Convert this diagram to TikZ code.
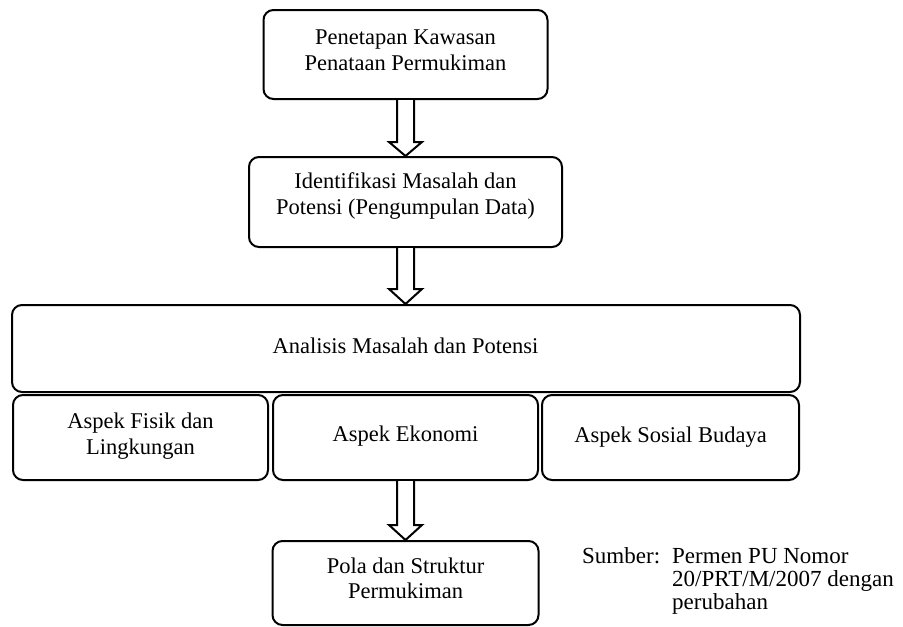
\documentclass[tikz,border=0pt]{standalone}
\usepackage{fontspec}
\setmainfont{Liberation Serif}
\usetikzlibrary{calc}
\begin{document}
\begin{tikzpicture}[x=1pt,y=-1pt,
  box/.style={draw, line width=2pt, rounded corners=10pt, inner sep=0pt, minimum width=#1},
  txt/.style={align=center, font=\fontsize{22.5}{25.5}\selectfont, inner sep=0pt},
  src/.style={anchor=base west, font=\fontsize{23}{23}\selectfont, inner sep=0pt},
  blockarrow/.style={draw, line width=2pt, fill=white, line join=miter}]
\useasboundingbox (0,0) rectangle (903,627);
% boxes
\node[box=284pt, minimum height=89pt] (b1) at (405.5,54.5) {};
\node[box=313pt, minimum height=90pt] (b2) at (405.5,202) {};
\node[box=788pt, minimum height=87pt] (b3) at (406,348.5) {};
\node[box=255pt, minimum height=85pt] (a1) at (140.5,437.5) {};
\node[box=265pt, minimum height=85pt] (a2) at (405.5,437.5) {};
\node[box=257pt, minimum height=85pt] (a3) at (670.5,437.5) {};
\node[box=266pt, minimum height=84pt] (b4) at (405.5,583) {};
% texts
\node[txt] (t1) at (405.5,50) {Penetapan Kawasan\\Penataan Permukiman};
\node[txt] (t2) at (405.5,196) {Identifikasi Masalah dan\\Potensi (Pengumpulan Data)};
\node[txt, anchor=base] (t3) at (405.5,353) {Analisis Masalah dan Potensi};
\node[txt] (ta1) at (140.5,436) {Aspek Fisik dan\\Lingkungan};
\node[txt, anchor=base] (ta2) at (405.5,441) {Aspek Ekonomi};
\node[txt, anchor=base] (ta3) at (670.5,442) {Aspek Sosial Budaya};
\node[txt] (t4) at (405.5,578.5) {Pola dan Struktur\\Permukiman};
% source
\node[src] (s0) at (582,563) {Sumber:};
\node[src] (s1) at (672,563) {Permen PU Nomor};
\node[src] (s2) at (672,586) {20/PRT/M/2007 dengan};
\node[src] (s3) at (672,609) {perubahan};
% block arrows
\draw[blockarrow] ($(b1.south)+(-8.5,0)$) -- ($(b2.north)+(-8.5,-14)$) -- ($(b2.north)+(-16.5,-14)$) -- (b2.north) -- ($(b2.north)+(16.5,-14)$) -- ($(b2.north)+(8.5,-14)$) -- ($(b1.south)+(8.5,0)$);
\draw[blockarrow] ($(b2.south)+(-8.5,0)$) -- ($(b2.south|-b3.north)+(-8.5,-15)$) -- ($(b2.south|-b3.north)+(-16.5,-15)$) -- (b2.south|-b3.north) -- ($(b2.south|-b3.north)+(16.5,-15)$) -- ($(b2.south|-b3.north)+(8.5,-15)$) -- ($(b2.south)+(8.5,0)$);
\draw[blockarrow] ($(a2.south)+(-8.5,0)$) -- ($(b4.north)+(-8.5,-15)$) -- ($(b4.north)+(-16.5,-15)$) -- (b4.north) -- ($(b4.north)+(16.5,-15)$) -- ($(b4.north)+(8.5,-15)$) -- ($(a2.south)+(8.5,0)$);
\end{tikzpicture}
\end{document}
